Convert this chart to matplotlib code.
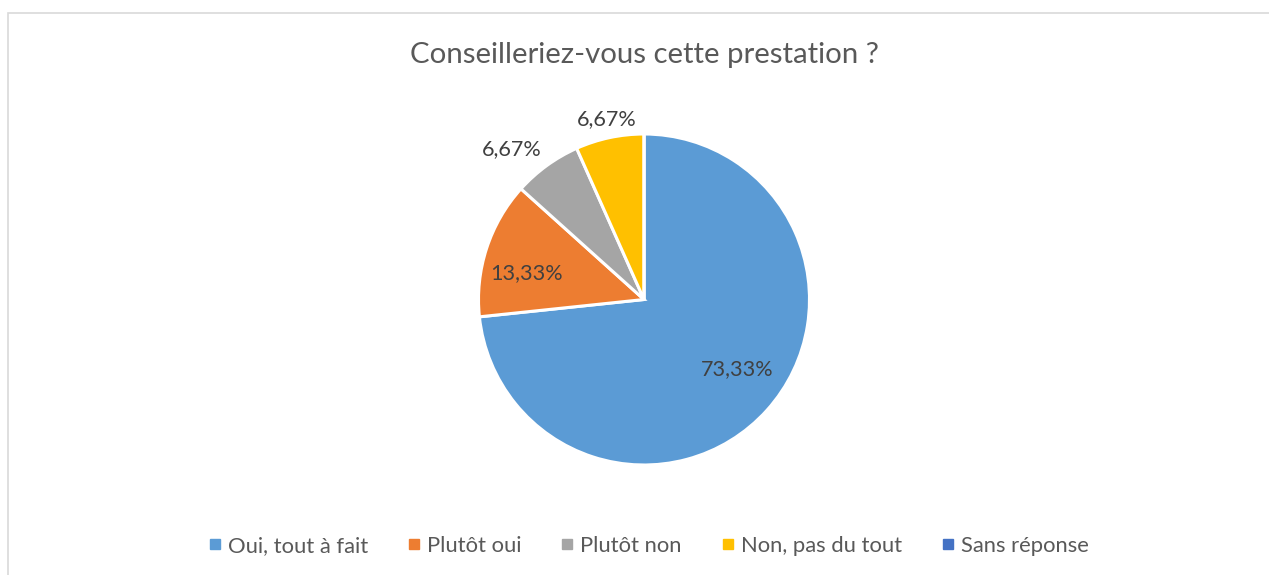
import numpy as np
import matplotlib
matplotlib.use("Agg")
import matplotlib.pyplot as plt
from matplotlib.lines import Line2D
from matplotlib.patches import Rectangle

categories = ["Oui, tout à fait", "Plutôt oui", "Plutôt non", "Non, pas du tout", "Sans réponse"]
values = [73.33, 13.33, 6.67, 6.67, 0.0]
value_labels = ["73,33%", "13,33%", "6,67%", "6,67%", ""]
colors = ["#5B9BD5", "#ED7D31", "#A5A5A5", "#FFC000", "#4472C4"]
title = "Conseilleriez-vous cette prestation ?"

plt.rcParams['font.family'] = ['Lato', 'DejaVu Sans']

W, H = 1269, 575
fig = plt.figure(figsize=(W / 100, H / 100), dpi=100)
fig.patch.set_facecolor("white")

# chart border
fig.add_artist(Rectangle((7.5 / W, -0.1), 1.2, (H - 12.5) / H + 0.1, transform=fig.transFigure,
                         fill=False, edgecolor="#D9D9D9", linewidth=1.2))

cx, cy, r = 644, 299.5, 165.5
ax = fig.add_axes([(cx - r) / W, (H - cy - r) / H, 2 * r / W, 2 * r / H])
wedges, _ = ax.pie(values, colors=colors, startangle=90, counterclock=False, radius=1,
                   wedgeprops=dict(edgecolor="white", linewidth=2.2))
ax.set_xlim(-1, 1)
ax.set_ylim(-1, 1)
ax.set_aspect("equal")
ax.axis("off")

# label placement: (angle offset from mid-angle in degrees, radial distance)
placement = [(5.2, 0.70), (5.5, 0.725), (5.5, 1.21), (-0.4, 1.11), (0, 0)]
for w, lab, (doff, dist) in zip(wedges, value_labels, placement):
    if not lab:
        continue
    mid = np.deg2rad((w.theta1 + w.theta2) / 2 + doff)
    ax.text(dist * np.cos(mid), dist * np.sin(mid), lab, ha="center", va="center",
            fontsize=15.6, color="#404040", clip_on=False)

fig.text(cx / W, 1 - 55 / H, title, ha="center", va="center", fontsize=21.2, color="#595959")

handles = [Line2D([], [], marker="s", linestyle="none", markersize=7, markerfacecolor=c,
                  markeredgecolor=c) for c in colors]
fig.legend(handles, categories, loc="center", bbox_to_anchor=(649 / W, 1 - 546 / H), ncol=5,
           frameon=False, fontsize=15.8, labelcolor="#595959", handletextpad=0.34,
           columnspacing=1.85, handlelength=0.5)

fig.savefig("out.png", dpi=100, facecolor="white")
